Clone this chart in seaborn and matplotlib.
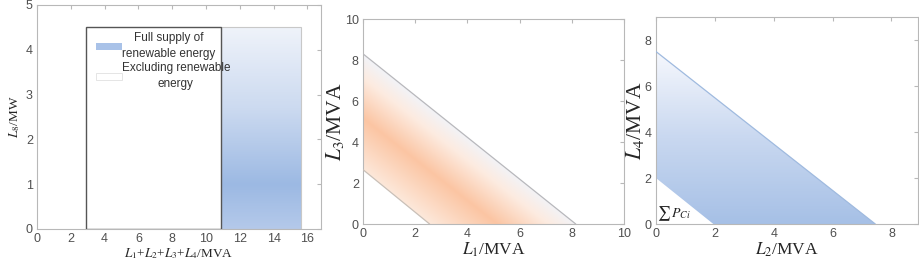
import numpy as np
import matplotlib
matplotlib.use("Agg")
import matplotlib.pyplot as plt
import seaborn as sns
from matplotlib.patches import Polygon, Patch, Rectangle
from matplotlib.colors import LinearSegmentedColormap

# panel 1: L1+L2+L3+L4 vs L8
base_x = [2.9, 10.9]          # excluding renewable energy
full_x = [10.9, 15.6]         # full supply of renewable energy
l8_max = 4.5
legend_labels = ["Full supply of\nrenewable energy", "Excluding renewable\nenergy"]

# panel 2: L1 vs L3 band
l1_low = [0.0, 2.55]
l3_low = [2.65, 0.0]
l1_up = [0.0, 8.15]
l3_up = [8.3, 0.0]

# panel 3: L2 vs L4 band
l2_low = [0.0, 1.95]
l4_low = [2.0, 0.0]
l2_up = [0.0, 7.45]
l4_up = [7.5, 0.0]
sum_label = r"$\sum\,P_{Ci}$"

sns.set_style("white")
plt.rcParams["font.family"] = ["Liberation Sans", "DejaVu Sans"]
plt.rcParams["mathtext.fontset"] = "stix"

SERIF = "Liberation Serif"
TICK_C = "#505050"
SPINE_C = "#b8b8b8"

blue_v = LinearSegmentedColormap.from_list(
    "bv", [(0, "#b4c9ea"), (0.22, "#9cb9e3"), (0.6, "#ccdaf0"), (1, "#eff3fa")])
blue_3 = LinearSegmentedColormap.from_list(
    "b3", [(0, "#a6c0e6"), (0.5, "#c9d8f0"), (1, "#f6f8fd")])
orange = LinearSegmentedColormap.from_list(
    "or", [(0, "#fde8da"), (0.45, "#fbc5a3"), (0.8, "#fdebe0"), (1, "#f2f3f7")])


def style_axes(ax, xlim, ylim, xticks, yticks):
    ax.set_xlim(*xlim)
    ax.set_ylim(*ylim)
    ax.set_xticks(xticks)
    ax.set_yticks(yticks)
    ax.tick_params(direction="in", top=True, right=True, length=3,
                   color=SPINE_C, labelcolor=TICK_C, labelsize=9, pad=3)
    for s in ax.spines.values():
        s.set_color(SPINE_C)
        s.set_linewidth(0.8)


def gradient_fill(ax, verts, cmap, mode, zorder=1):
    verts = np.asarray(verts)
    x0, x1 = verts[:, 0].min(), verts[:, 0].max()
    y0, y1 = verts[:, 1].min(), verts[:, 1].max()
    xx, yy = np.meshgrid(np.linspace(x0, x1, 300), np.linspace(y0, y1, 300))
    if mode == "vertical":
        t = (yy - y0) / (y1 - y0)
    else:
        s = xx + yy
        t = (s - mode[0]) / (mode[1] - mode[0])
    im = ax.imshow(np.clip(t, 0, 1), extent=[x0, x1, y0, y1], origin="lower",
                   cmap=cmap, vmin=0, vmax=1, aspect="auto", zorder=zorder,
                   interpolation="bilinear")
    poly = Polygon(verts, closed=True, facecolor="none", edgecolor="none")
    ax.add_patch(poly)
    im.set_clip_path(poly)
    return im


fig = plt.figure(figsize=(9.2, 2.64), dpi=100)
ax1 = fig.add_axes([0.0402, 0.1326, 0.3087, 0.8485])
ax2 = fig.add_axes([0.3946, 0.1515, 0.2837, 0.7765])
ax3 = fig.add_axes([0.7130, 0.1515, 0.2848, 0.7840])

# ---- panel 1
style_axes(ax1, (0, 16.8), (0, 5), range(0, 17, 2), range(0, 6))
gradient_fill(ax1, [(full_x[0], 0), (full_x[1], 0), (full_x[1], l8_max), (full_x[0], l8_max)],
              blue_v, "vertical")
ax1.add_patch(Rectangle((full_x[0], 0), full_x[1] - full_x[0], l8_max,
                        facecolor="none", edgecolor="#c8c8c8", lw=0.8, zorder=2))
ax1.add_patch(Rectangle((base_x[0], 0), base_x[1] - base_x[0], l8_max,
                        facecolor="white", edgecolor="#555555", lw=1.0, zorder=3))
handles = [Patch(facecolor="#a9c2e8", edgecolor="none"),
           Patch(facecolor="white", edgecolor="#e0e0e0", lw=0.6)]
leg = ax1.legend(handles, legend_labels, loc="upper left", bbox_to_anchor=(0.19, 0.90),
                 frameon=False, fontsize=8.5, handlelength=2.2, handleheight=0.5,
                 handletextpad=0.0, labelspacing=0.2, borderaxespad=0)
leg.set_zorder(5)
for t in leg.get_texts():
    t.set_multialignment("center")
    t.set_linespacing(1.4)
    t.set_color("#333333")
ax1.set_xlabel(r"$L_1$+$L_2$+$L_3$+$L_4$/MVA", family=SERIF, fontsize=9.5, labelpad=1)
ax1.set_ylabel(r"$L_8$/MW", family=SERIF, fontsize=9.5, labelpad=3)

# ---- panel 2
style_axes(ax2, (0, 10), (0, 10), range(0, 11, 2), range(0, 11, 2))
band2 = list(zip(l1_low, l3_low)) + list(zip(l1_up, l3_up))[::-1]
gradient_fill(ax2, band2, orange, (2.6, 8.22))
sns.lineplot(x=l1_low, y=l3_low, ax=ax2, color="#c9c0b8", lw=0.9, estimator=None, zorder=3)
sns.lineplot(x=l1_up, y=l3_up, ax=ax2, color="#b8b8bc", lw=0.9, estimator=None, zorder=3)
ax2.set_xlabel(r"$L_1$/MVA", family=SERIF, fontsize=12.5, labelpad=0)
ax2.set_ylabel(r"$L_3$/MVA", family=SERIF, fontsize=15.5, labelpad=-1)

# ---- panel 3
style_axes(ax3, (0, 8.9), (0, 9), range(0, 9, 2), range(0, 9, 2))
band3 = list(zip(l2_low, l4_low)) + list(zip(l2_up, l4_up))[::-1]
gradient_fill(ax3, band3, blue_3, "vertical")
sns.lineplot(x=l2_up, y=l4_up, ax=ax3, color="#9fbadf", lw=0.9, estimator=None, zorder=3)
ax3.text(0.05, 0.3, sum_label, fontsize=10, color="#222222", family=SERIF, zorder=4)
ax3.set_xlabel(r"$L_2$/MVA", family=SERIF, fontsize=12.5, labelpad=0)
ax3.set_ylabel(r"$L_4$/MVA", family=SERIF, fontsize=15.5, labelpad=-1)

fig.savefig("out.png", dpi=100)
